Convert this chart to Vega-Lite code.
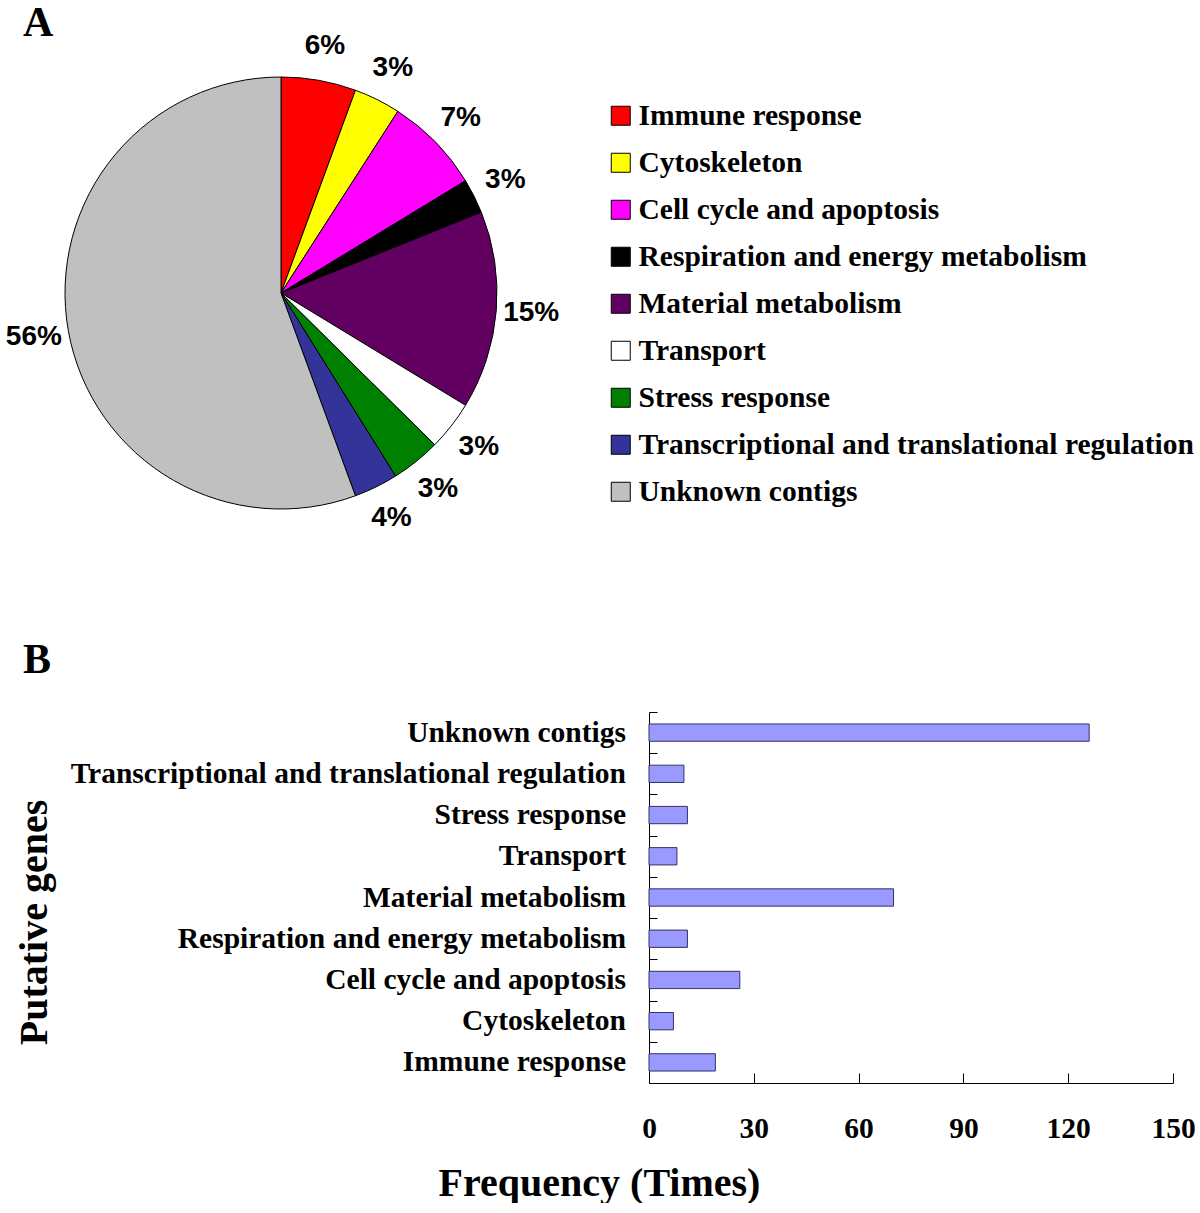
{
  "$schema": "https://vega.github.io/schema/vega-lite/v6.json",
  "padding": {"left": 5, "top": 1, "right": 0, "bottom": 0},
  "background": "white",
  "spacing": 106,
  "config": {"view": {"stroke": null}, "font": "Liberation Serif"},
  "datasets": {
    "cats": [
      {"category": "Immune response", "idx": 1, "share": 5.6, "pct": "6%", "count": 19},
      {"category": "Cytoskeleton", "idx": 2, "share": 3.5, "pct": "3%", "count": 7},
      {"category": "Cell cycle and apoptosis", "idx": 3, "share": 7.2, "pct": "7%", "count": 26},
      {"category": "Respiration and energy metabolism", "idx": 4, "share": 2.6, "pct": "3%", "count": 11},
      {"category": "Material metabolism", "idx": 5, "share": 14.8, "pct": "15%", "count": 70},
      {"category": "Transport", "idx": 6, "share": 3.7, "pct": "3%", "count": 8},
      {"category": "Stress response", "idx": 7, "share": 3.7, "pct": "3%", "count": 11},
      {"category": "Transcriptional and translational regulation", "idx": 8, "share": 3.3, "pct": "4%", "count": 10},
      {"category": "Unknown contigs", "idx": 9, "share": 55.6, "pct": "56%", "count": 126}
    ]
  },
  "vconcat": [
    {
      "width": 540,
      "height": 450,
      "title": {"text": "A", "anchor": "start", "frame": "group", "font": "Liberation Serif", "fontSize": 42, "fontWeight": "bold", "color": "black", "dx": 12, "offset": -13},
      "data": {"name": "cats"},
      "encoding": {
        "theta": {"field": "share", "type": "quantitative", "stack": true},
        "order": {"field": "idx", "type": "quantitative"}
      },
      "layer": [
        {
          "mark": {"type": "arc", "outerRadius": 216, "stroke": "black", "strokeWidth": 1},
          "encoding": {
            "color": {
              "field": "category",
              "type": "nominal",
              "sort": null,
              "scale": {
                "domain": ["Immune response", "Cytoskeleton", "Cell cycle and apoptosis", "Respiration and energy metabolism", "Material metabolism", "Transport", "Stress response", "Transcriptional and translational regulation", "Unknown contigs"],
                "range": ["#ff0000", "#ffff00", "#ff00ff", "#000000", "#620062", "#ffffff", "#008000", "#333399", "#c0c0c0"]
              },
              "legend": {
                "orient": "none",
                "legendX": 595,
                "legendY": 33,
                "title": null,
                "symbolType": "square",
                "symbolSize": 361,
                "symbolStrokeColor": "black",
                "symbolStrokeWidth": 1,
                "symbolOpacity": 1,
                "labelFont": "Liberation Serif",
                "labelFontWeight": "bold",
                "labelFontSize": 29.5,
                "labelColor": "black",
                "labelLimit": 800,
                "labelOffset": 3,
                "rowPadding": 16
              }
            }
          }
        },
        {
          "mark": {"type": "text", "radius": 251, "font": "Liberation Sans", "fontWeight": "bold", "fontSize": 28, "color": "black"},
          "encoding": {"text": {"field": "pct", "type": "nominal"}}
        }
      ]
    },
    {
      "bounds": "flush",
      "spacing": 23,
      "hconcat": [
        {
          "width": 615,
          "height": 371,
          "title": {"text": "B", "anchor": "start", "frame": "group", "font": "Liberation Serif", "fontSize": 42, "fontWeight": "bold", "color": "black", "dx": 12, "offset": 30},
          "data": {"name": "cats"},
          "mark": {"type": "text", "align": "right", "baseline": "middle", "font": "Liberation Serif", "fontWeight": "bold", "fontSize": 29.5, "color": "black"},
          "encoding": {
            "x": {"value": "width"},
            "text": {"field": "category", "type": "nominal"},
            "y": {
              "field": "category",
              "type": "nominal",
              "sort": ["Unknown contigs", "Transcriptional and translational regulation", "Stress response", "Transport", "Material metabolism", "Respiration and energy metabolism", "Cell cycle and apoptosis", "Cytoskeleton", "Immune response"],
              "scale": {"paddingInner": 0, "paddingOuter": 0},
              "axis": {
                "title": "Putative genes",
                "titleFont": "Liberation Serif",
                "titleFontSize": 40,
                "titleFontWeight": "bold",
                "titleColor": "black",
                "titleX": 23,
                "titleY": 210,
                "titleAngle": -90,
                "titleAlign": "center",
                "titleBaseline": "middle",
                "labels": false,
                "ticks": false,
                "domain": false
              }
            }
          }
        },
        {
          "width": 524,
          "height": 371,
          "data": {"name": "cats"},
          "mark": {"type": "bar", "fill": "#9999ff", "stroke": "#333366", "strokeWidth": 1, "height": {"band": 0.42}},
          "encoding": {
            "y": {
              "field": "category",
              "type": "nominal",
              "sort": ["Unknown contigs", "Transcriptional and translational regulation", "Stress response", "Transport", "Material metabolism", "Respiration and energy metabolism", "Cell cycle and apoptosis", "Cytoskeleton", "Immune response"],
              "scale": {"paddingInner": 0, "paddingOuter": 0},
              "axis": {
                "title": null,
                "labels": false,
                "tickBand": "extent",
                "tickSize": -8,
                "tickColor": "black",
                "domainColor": "black"
              }
            },
            "x": {
              "field": "count",
              "type": "quantitative",
              "scale": {"domain": [0, 150]},
              "axis": {
                "title": "Frequency (Times)",
                "titleFont": "Liberation Serif",
                "titleFontSize": 40,
                "titleFontWeight": "bold",
                "titleColor": "black",
                "titleX": -50,
                "titleY": 100,
                "titleAlign": "center",
                "titleBaseline": "middle",
                "values": [0, 30, 60, 90, 120, 150],
                "grid": false,
                "tickSize": -10,
                "tickColor": "black",
                "domainColor": "black",
                "labelFont": "Liberation Serif",
                "labelFontWeight": "bold",
                "labelFontSize": 29.5,
                "labelColor": "black",
                "labelFlush": false,
                "labelPadding": 41
              }
            }
          }
        }
      ]
    }
  ]
}
